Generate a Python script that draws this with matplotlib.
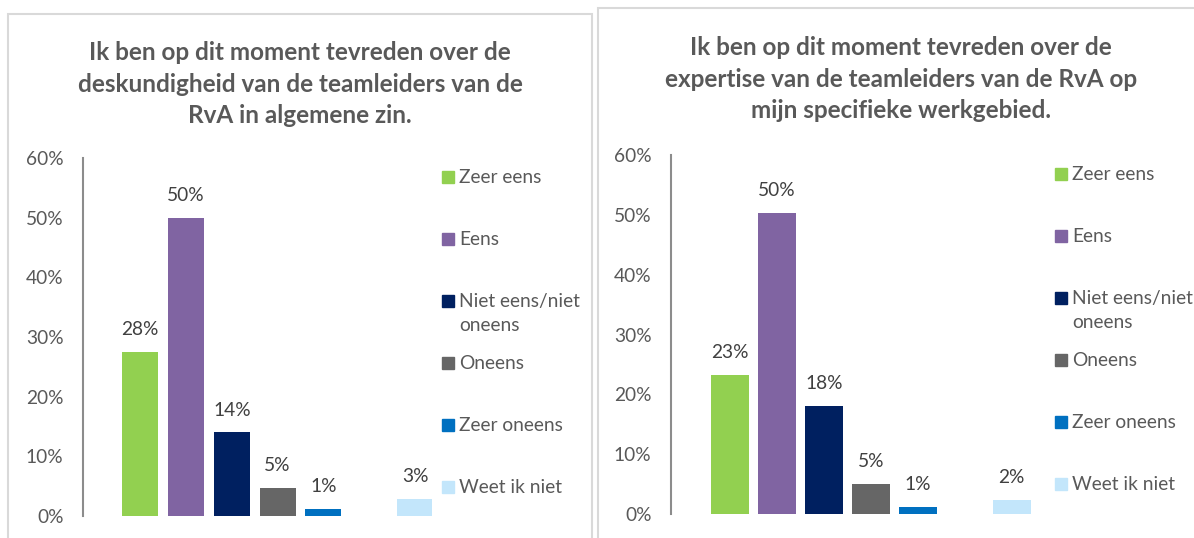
import numpy as np
import matplotlib.pyplot as plt
from matplotlib.patches import Rectangle

# data
categories = ['Zeer eens', 'Eens', 'Niet eens/niet\noneens', 'Oneens', 'Zeer oneens', '', 'Weet ik niet']
colors = ['#92d050', '#8064a2', '#002060', '#666666', '#0070c0', '#ffffff', '#c3e6fb']
left_vals = [0.275, 0.50, 0.14, 0.047, 0.012, np.nan, 0.028]
left_lbls = ['28%', '50%', '14%', '5%', '1%', '', '3%']
right_vals = [0.233, 0.503, 0.18, 0.05, 0.012, np.nan, 0.023]
right_lbls = ['23%', '50%', '18%', '5%', '1%', '', '2%']
left_title = 'Ik ben op dit moment tevreden over de\ndeskundigheid van de teamleiders van de\nRvA in algemene zin.'
right_title = 'Ik ben op dit moment tevreden over de\nexpertise van de teamleiders van de RvA op\nmijn specifieke werkgebied.'

plt.rcParams['font.family'] = ['Lato', 'DejaVu Sans']
W, H = 1194, 538
fig = plt.figure(figsize=(W / 100, H / 100), dpi=100)

def fx(x):
    return x / W

def fy(y):
    return 1 - y / H

# panel borders
fig.patches.append(Rectangle((fx(8), fy(545)), fx(584), fy(14) - fy(545), transform=fig.transFigure,
                             fill=False, edgecolor='#d9d9d9', lw=1.5))
fig.patches.append(Rectangle((fx(598), fy(545)), fx(620), fy(8) - fy(545), transform=fig.transFigure,
                             fill=False, edgecolor='#d9d9d9', lw=1.5))

txt = '#595959'
fs = 13.8

def panel(axis_x, y0, y60, step, bw, vals, lbls, title, title_x, title_y, leg_x, leg_y):
    x = np.arange(len(vals))
    lo = -1.25
    hi = lo + (leg_x - 10 - axis_x) / step
    ax = fig.add_axes([fx(axis_x), fy(y0), (hi - lo) * step / W, (y0 - y60) / H])
    bars = ax.bar(x, vals, width=bw / step, color=colors)
    ax.set_xlim(lo, hi)
    ax.set_ylim(0, 0.6)
    ax.set_yticks(np.arange(0, 0.61, 0.1))
    ax.set_yticklabels(['%d%%' % round(v * 100) for v in np.arange(0, 0.61, 0.1)])
    ax.tick_params(axis='y', length=0, pad=14, labelsize=fs, labelcolor=txt)
    ax.set_xticks([])
    for s in ['top', 'right', 'bottom']:
        ax.spines[s].set_visible(False)
    ax.spines['left'].set_color('#8c8c8c')
    ax.spines['left'].set_linewidth(1.5)
    for b, v, l in zip(bars, vals, lbls):
        if l:
            ax.annotate(l, (b.get_x() + b.get_width() / 2, v), xytext=(0, 10), textcoords='offset points',
                        ha='center', va='bottom', fontsize=fs, color='#404040')
    fig.text(fx(title_x), fy(title_y), title, ha='center', va='top', fontsize=17.5,
             fontweight='bold', color=txt, linespacing=1.46)
    # legend
    i = 0
    for c, name in zip(colors, categories):
        if not name:
            continue
        yy = leg_y + i * 62
        fig.patches.append(Rectangle((fx(leg_x), fy(yy + 6)), fx(12), fy(yy - 6) - fy(yy + 6),
                                     transform=fig.transFigure, color=c))
        fig.text(fx(leg_x + 17), fy(yy - 8), name, ha='left', va='top', fontsize=fs,
                 color=txt, linespacing=1.47)
        i += 1

panel(83, 516, 158, 45.8, 36, left_vals, left_lbls, left_title, 300, 41, 442, 177)
panel(671, 514, 155, 47, 38, right_vals, right_lbls, right_title, 901, 36, 1055, 174)

fig.savefig('out.png', dpi=100)
